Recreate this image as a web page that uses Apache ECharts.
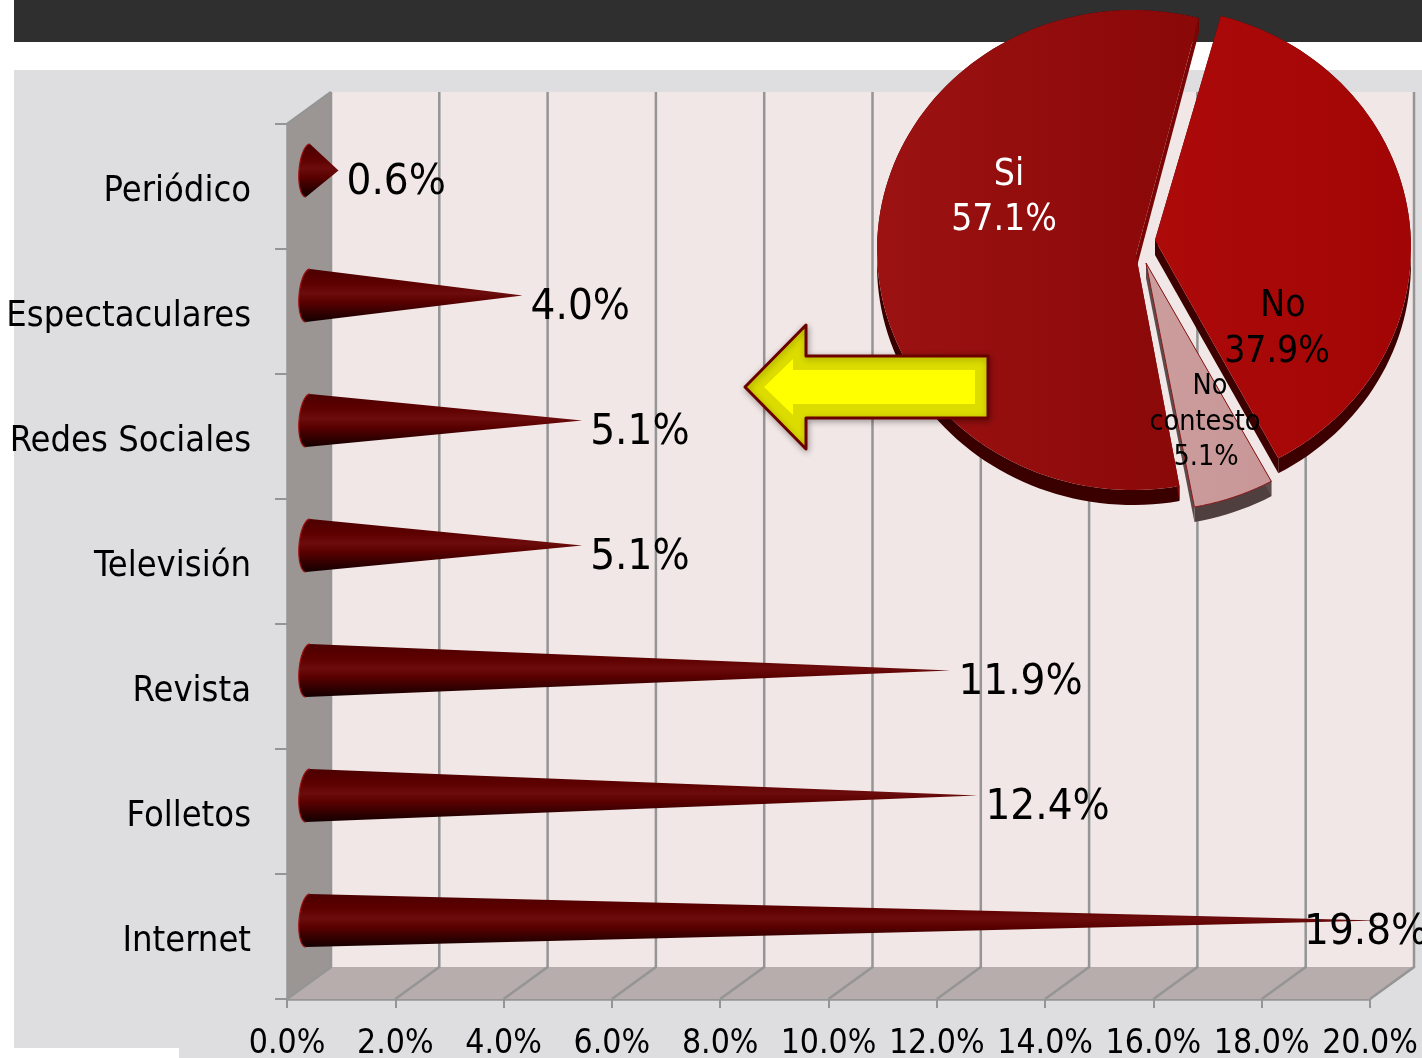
<!DOCTYPE html>
<html>
<head>
<meta charset="utf-8">
<style>html,body{margin:0;padding:0;background:#fff}#chart{width:1422px;height:1058px}</style>
<script src="https://cdn.jsdelivr.net/npm/echarts@6/dist/echarts.min.js"></script>
</head>
<body>
<div id="chart"></div>
<script>
// Media categories and their share of responses, in percent
const categories = ['Periódico', 'Espectaculares', 'Redes Sociales', 'Televisión', 'Revista', 'Folletos', 'Internet'];
const mediaValues = [0.6, 4.0, 5.1, 5.1, 11.9, 12.4, 19.8];

// Inset pie: answer labels and percent shares
const answerLabels = ['Si', 'No', 'No\ncontesto'];
const answerValues = [57.1, 37.9, 5.1];

const FONT = '"DejaVu Sans Condensed", "DejaVu Sans", sans-serif';
const AXIS_GREY = '#959595';

// Plot box and the offset of the back wall relative to the front plane
const PLOT = { left: 287, top: 124, width: 1083, height: 875 };
const DEPTH = { x: 44, y: -32 };
const CONE_INSET = { x: 19, y: -16 };
const XMAX = 20;
const XSTEP = 2;
const xTicks = [];
for (let v = 0; v <= XMAX; v += XSTEP) xTicks.push(v);

// Per-slice appearance and projected geometry of the tilted pie
const PIE_R = { x: 256, y: 240 };
const PIE_THICK = { x: 0, y: 15 };
const PIE_START_DEG = 14.9;
const sliceStyle = [
  { arc: [1133, 250], apex: [1136, 255], top: ['#9c1212', '#8a0808'], rim: '#3a0000', side: '#7a0505', text: '#fff', fontSize: 37, lineXs: [1009, 1004], lineYs: [175, 220] },
  { arc: [1155, 248], apex: [1155, 240], top: ['#ad0a0a', '#a20505'], rim: '#3d0000', side: '#3d0000', text: '#000', fontSize: 37, lineXs: [1283, 1277], lineYs: [306, 352] },
  { arc: [1148, 271], apex: [1146, 263], top: ['#cc9d9d', '#c89696'], rim: '#503f3f', side: '#5c4c4c', text: '#000', fontSize: 28.5, lineXs: [1210, 1205, 1206], lineYs: [387, 423, 458], stroke: '#8a1414' }
];

function sliceAngles() {
  // Si runs counter-clockwise from the start angle; the others run clockwise from that same edge
  const total = answerValues.reduce((a, b) => a + b, 0);
  const span = answerValues.map(v => v / total * 360);
  return [
    [PIE_START_DEG, PIE_START_DEG - span[0]],
    [PIE_START_DEG, PIE_START_DEG + span[1]],
    [PIE_START_DEG + span[1], PIE_START_DEG + span[1] + span[2]]
  ];
}

function arcPoints(center, fromDeg, toDeg) {
  const pts = [];
  const steps = Math.max(6, Math.ceil(Math.abs(toDeg - fromDeg) / 2));
  for (let i = 0; i <= steps; i++) {
    const a = (fromDeg + (toDeg - fromDeg) * i / steps) * Math.PI / 180;
    pts.push([center[0] + PIE_R.x * Math.sin(a), center[1] - PIE_R.y * Math.cos(a)]);
  }
  return pts;
}

const shift = p => [p[0] + PIE_THICK.x, p[1] + PIE_THICK.y];

function renderFrame(params, api) {
  // Wall, floor and receding grid lines of the box, positioned from the value axis
  const idx = params.dataIndex;
  const x = api.coord([api.value(0), 0])[0];
  const bottom = PLOT.top + PLOT.height;
  const backX = x + DEPTH.x;
  const lineStyle = { stroke: AXIS_GREY, lineWidth: 2.5, fill: null };
  const children = [];
  if (idx === 0) {
    const right = PLOT.left + PLOT.width;
    children.push(
      { type: 'polygon', shape: { points: [[PLOT.left + DEPTH.x, PLOT.top + DEPTH.y], [right + DEPTH.x, PLOT.top + DEPTH.y], [right + DEPTH.x, bottom + DEPTH.y], [PLOT.left + DEPTH.x, bottom + DEPTH.y]] }, style: { fill: '#f1e7e6' } },
      { type: 'polygon', shape: { points: [[PLOT.left, PLOT.top], [PLOT.left + DEPTH.x, PLOT.top + DEPTH.y], [PLOT.left + DEPTH.x, bottom + DEPTH.y], [PLOT.left, bottom]] }, style: { fill: '#9b9594' } },
      { type: 'polygon', shape: { points: [[PLOT.left, bottom], [PLOT.left + DEPTH.x, bottom + DEPTH.y], [right + DEPTH.x, bottom + DEPTH.y], [right, bottom]] }, style: { fill: '#b6adac' } },
      { type: 'polyline', shape: { points: [[PLOT.left, PLOT.top], [PLOT.left + DEPTH.x, PLOT.top + DEPTH.y]] }, style: lineStyle }
    );
  }
  children.push(
    { type: 'polyline', shape: { points: [[x, bottom], [backX, bottom + DEPTH.y], [backX, PLOT.top + DEPTH.y]] }, style: lineStyle }
  );
  return { type: 'group', children };
}

function renderCone(params, api) {
  const value = api.value(0);
  const cat = api.value(1);
  const base = api.coord([0, cat]);
  const tip = api.coord([value, cat]);
  const cy = base[1] + CONE_INSET.y;
  const baseX = base[0] + CONE_INSET.x + 2;
  const tipX = tip[0] + CONE_INSET.x;
  const halfH = 26.5;
  const rim = [];
  for (let deg = -90; deg <= 90; deg += 6) {
    const t = deg * Math.PI / 180;
    rim.push([baseX - 9 * Math.cos(t) - 2 * Math.sin(t), cy + halfH * Math.sin(t)]);
  }
  const labelX = Math.min(tipX + 8, 1304);
  return {
    type: 'group',
    children: [
      {
        type: 'polygon',
        shape: { points: [[tipX, cy]].concat(rim) },
        style: {
          fill: {
            type: 'linear', x: 0, y: 0, x2: 0, y2: 1,
            colorStops: [
              { offset: 0, color: '#4c0000' },
              { offset: 0.28, color: '#5e0000' },
              { offset: 0.46, color: '#6d0c0c' },
              { offset: 0.62, color: '#5a0000' },
              { offset: 0.85, color: '#2e0000' },
              { offset: 1, color: '#140000' }
            ]
          }
        }
      },
      { type: 'polyline', shape: { points: rim }, style: { stroke: '#a01010', lineWidth: 1.2, fill: null } },
      {
        type: 'text',
        style: {
          x: labelX, y: cy + 12,
          text: value.toFixed(1) + '%',
          font: '43.5px ' + FONT,
          fill: '#000',
          textAlign: 'left', textVerticalAlign: 'middle'
        }
      }
    ]
  };
}

function renderSlice(params, api) {
  const i = params.dataIndex;
  const st = sliceStyle[i];
  const [from, to] = sliceAngles()[i];
  const arc = arcPoints(st.arc, from, to);
  const apex = st.apex;
  const first = arc[0];
  const last = arc[arc.length - 1];
  const rimPts = arc.concat(arc.slice().reverse().map(shift));
  const sideA = [apex, first, shift(first), shift(apex)];
  const sideB = [apex, last, shift(last), shift(apex)];
  const lines = (answerLabels[i] + '\n' + api.value(0).toFixed(1) + '%').split('\n');
  const children = [
    { type: 'polygon', shape: { points: rimPts }, style: { fill: st.rim } },
    { type: 'polygon', shape: { points: sideA }, style: { fill: st.side } },
    { type: 'polygon', shape: { points: sideB }, style: { fill: st.side } },
    {
      type: 'polygon',
      shape: { points: [apex].concat(arc) },
      style: {
        fill: { type: 'linear', x: 0, y: 0, x2: 1, y2: 0, colorStops: [{ offset: 0, color: st.top[0] }, { offset: 1, color: st.top[1] }] },
        stroke: st.stroke || null,
        lineWidth: st.stroke ? 1 : 0
      }
    }
  ];
  lines.forEach((line, k) => children.push({
    type: 'text',
    z2: 10,
    style: {
      x: st.lineXs[k], y: st.lineYs[k],
      text: line,
      font: st.fontSize + 'px ' + FONT,
      fill: st.text,
      textAlign: 'center', textVerticalAlign: 'middle'
    }
  }));
  return { type: 'group', children };
}

const chart = echarts.init(document.getElementById('chart'), null, { renderer: 'canvas' });

chart.setOption({
  animation: false,
  backgroundColor: '#ffffff',
  graphic: {
    elements: [
      { type: 'rect', z: -10, shape: { x: 14, y: 0, width: 1408, height: 42 }, style: { fill: '#2f2f2f' } },
      { type: 'rect', z: -10, shape: { x: 14, y: 70, width: 1408, height: 988 }, style: { fill: '#dedee0' } },
      { type: 'rect', z: -9, shape: { x: 0, y: 1048, width: 179, height: 10 }, style: { fill: '#ffffff' } },
      {
        type: 'polygon', z: 20,
        shape: { points: [[745, 387], [806, 325], [806, 356], [988, 356], [988, 418], [806, 418], [806, 449]] },
        style: { fill: '#dcdc00', stroke: '#6b0000', lineWidth: 3, lineJoin: 'round', shadowBlur: 6, shadowColor: 'rgba(0,0,0,0.3)', shadowOffsetX: 1, shadowOffsetY: 2 }
      },
      {
        type: 'polygon', z: 21,
        shape: { points: [[764, 387], [793, 359], [793, 370], [975, 370], [975, 404], [793, 404], [793, 415]] },
        style: { fill: '#ffff00' }
      }
    ]
  },
  grid: { left: PLOT.left, top: PLOT.top, width: PLOT.width, height: PLOT.height, containLabel: false, outerBoundsMode: 'none' },
  xAxis: {
    type: 'value', min: 0, max: XMAX, interval: XSTEP,
    axisLine: { show: true, lineStyle: { color: AXIS_GREY, width: 2.5 } },
    axisTick: { show: true, length: 9, lineStyle: { color: AXIS_GREY, width: 2 } },
    splitLine: { show: false },
    axisLabel: { margin: 28, color: '#000', fontSize: 33.5, fontFamily: FONT, hideOverlap: false, formatter: v => v.toFixed(1) + '%' }
  },
  yAxis: {
    type: 'category', inverse: true, data: categories,
    axisLine: { show: true, lineStyle: { color: AXIS_GREY, width: 2.5 } },
    axisTick: { show: true, length: 12, alignWithLabel: false, lineStyle: { color: AXIS_GREY, width: 2 } },
    splitLine: { show: false },
    axisLabel: { margin: 36, color: '#000', fontSize: 36, fontFamily: FONT, interval: 0, verticalAlign: 'top', lineHeight: 10 }
  },
  series: [
    { name: 'Marco', type: 'custom', z: 1, silent: true, clip: false, renderItem: renderFrame, data: xTicks.map(v => [v, 0]), encode: { x: 0, y: 1 } },
    { name: 'Medios', type: 'custom', z: 3, clip: false, renderItem: renderCone, data: mediaValues.map((v, i) => [v, i]), encode: { x: 0, y: 1 } },
    { name: 'Respuestas', type: 'custom', z: 5, coordinateSystem: 'none', clip: false, renderItem: renderSlice, data: answerValues.map(v => [v]) }
  ]
});
</script>
</body>
</html>
